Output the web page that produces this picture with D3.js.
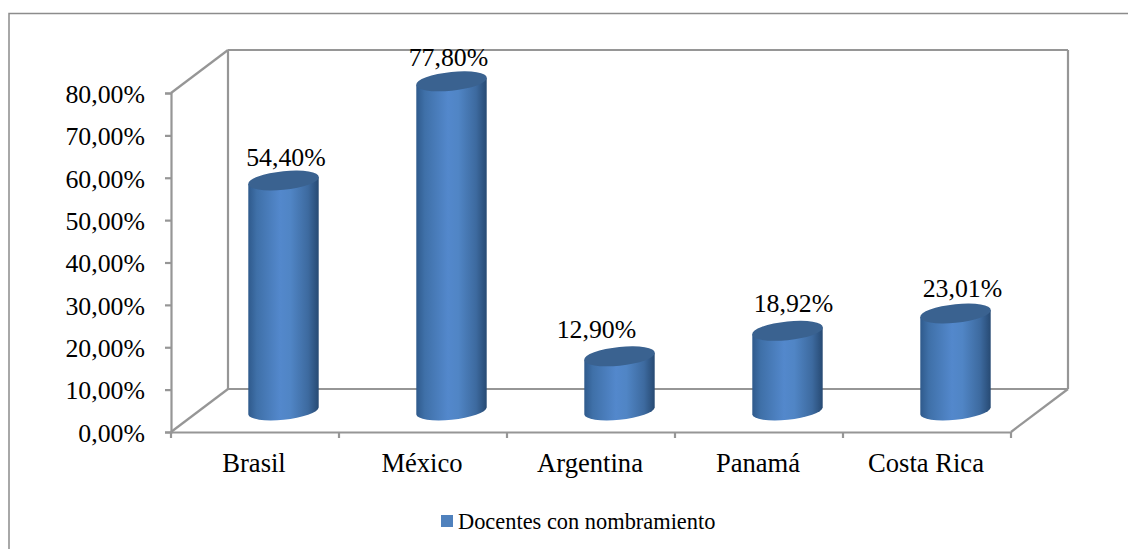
<!DOCTYPE html>
<html><head><meta charset="utf-8">
<script src="https://cdn.jsdelivr.net/npm/d3@7"></script>
<style>
html,body{margin:0;padding:0;background:#fff;overflow:hidden}
svg{display:block}
text{font-family:"Liberation Serif","Times New Roman",serif;fill:#000}
</style></head><body>
<div id="chart"></div>
<script>
const categories = ["Brasil","México","Argentina","Panamá","Costa Rica"];
const values = [54.40,77.80,12.90,18.92,23.01];
const valueLabels = ["54,40%","77,80%","12,90%","18,92%","23,01%"];
const yTicks = [0,10,20,30,40,50,60,70,80];
const seriesName = "Docentes con nombramiento";
const labelShiftX = [2.5,-3,-23,6,7];
const labelShiftY = [-14,-15,-18,-19,-16.5];

const W=1128,H=549;
const grey="#969696";
const depthX=57, depthY=43;
const svg=d3.select("#chart").append("svg").attr("width",W).attr("height",H);
const locale=d3.formatLocale({decimal:",",thousands:".",grouping:[3],currency:["",""]});
const y=d3.scaleLinear().domain([0,80]).range([432,93]);
const x=d3.scaleBand().domain(categories).range([171,1011]).paddingInner(0).paddingOuter(0);

// gradient
const defs=svg.append("defs");
const g=defs.append("linearGradient").attr("id","cyl").attr("x1","0").attr("x2","1").attr("y1","0").attr("y2","0");
[[0,"#2f5a8c"],[0.12,"#3f70a8"],[0.45,"#5388cc"],[0.6,"#5085c5"],[0.85,"#3d6a9f"],[1,"#274a73"]]
 .forEach(([o,c])=>g.append("stop").attr("offset",o).attr("stop-color",c));

// frame
svg.append("rect").attr("x",9).attr("y",13.5).attr("width",1125).attr("height",545)
  .attr("fill","#fff").attr("stroke","#8c8c8c").attr("stroke-width",1.5);

// walls
const x0=x.range()[0],x1=x.range()[1],y0=y(0),yT=y(80);
const wall=svg.append("g").attr("fill","none").attr("stroke",grey).attr("stroke-width",2.2);
const seg=(a,b,c,d)=>wall.append("line").attr("x1",a).attr("y1",b).attr("x2",c).attr("y2",d);
seg(x0,yT,x0+depthX,yT-depthY);
seg(x0+depthX,yT-depthY,x1+depthX,yT-depthY);
seg(x0+depthX,yT-depthY,x0+depthX,y0-depthY);
seg(x1+depthX,yT-depthY,x1+depthX,y0-depthY);
seg(x0+depthX,y0-depthY,x1+depthX,y0-depthY);
seg(x0,y0,x0+depthX,y0-depthY);
seg(x1,y0,x1+depthX,y0-depthY);

// axes
const yAxis=d3.axisLeft(y).tickValues(yTicks).tickSize(6).tickPadding(20)
  .tickFormat(d=>locale.format(".2f")(d)+"%");
const ya=svg.append("g").attr("transform",`translate(${x0},0)`).call(yAxis);
const xAxis=d3.axisBottom(x).tickSize(0).tickPadding(22);
const xa=svg.append("g").attr("transform",`translate(0,${y0})`).call(xAxis);
[ya,xa].forEach(a=>{a.attr("font-family",null).attr("font-size",null);
  a.selectAll("path.domain").attr("stroke",grey).attr("stroke-width",2.2);
  a.selectAll(".tick line").attr("stroke",grey).attr("stroke-width",2.2);
  a.selectAll("text").style("font-size","25.8px").attr("fill","#000");});
ya.selectAll(".tick text").attr("dy","0.36em");
xa.selectAll(".tick text").attr("dx","-1").attr("dy","0.69em").style("font-size","26.6px");
// x ticks at category boundaries
svg.append("g").selectAll("line").data(d3.range(categories.length+1)).join("line")
  .attr("x1",i=>x0+i*x.step()).attr("x2",i=>x0+i*x.step())
  .attr("y1",y0).attr("y2",y0+6).attr("stroke",grey).attr("stroke-width",2.2);

// cylinders
const rx=35.4, ry=9, tilt=-6, half=35.2, rise=3.5;
const cyl=svg.append("g").selectAll("g").data(categories).join("g");
const cx=(d)=>x(d)+x.bandwidth()/2+depthX/2;
const yb=(v)=>y(v)-21;
cyl.append("path").attr("fill","url(#cyl)").attr("d",(d,i)=>{
  const c=cx(d),t=yb(values[i]),b=yb(0);
  return `M${c-half},${t+rise}L${c+half},${t-rise}L${c+half},${b-rise}`+
         `A${rx},${ry} ${tilt} 0 1 ${c-half},${b+rise}Z`;
});
cyl.append("path").attr("fill","#3a6290").attr("d",(d,i)=>{
  const c=cx(d),t=yb(values[i]);
  return `M${c-half},${t+rise}A${rx},${ry} ${tilt} 1 1 ${c+half},${t-rise}A${rx},${ry} ${tilt} 1 1 ${c-half},${t+rise}Z`;
});
cyl.append("text").attr("text-anchor","middle").style("font-size","25.8px")
  .attr("x",(d,i)=>cx(d)+labelShiftX[i])
  .attr("y",(d,i)=>yb(values[i])+labelShiftY[i])
  .text((d,i)=>valueLabels[i]);

// legend
svg.append("rect").attr("x",441).attr("y",515).attr("width",12).attr("height",12).attr("fill","#4f81bd");
svg.append("text").attr("x",458).attr("y",529).style("font-size","22.4px").text(seriesName);
</script>
</body></html>
